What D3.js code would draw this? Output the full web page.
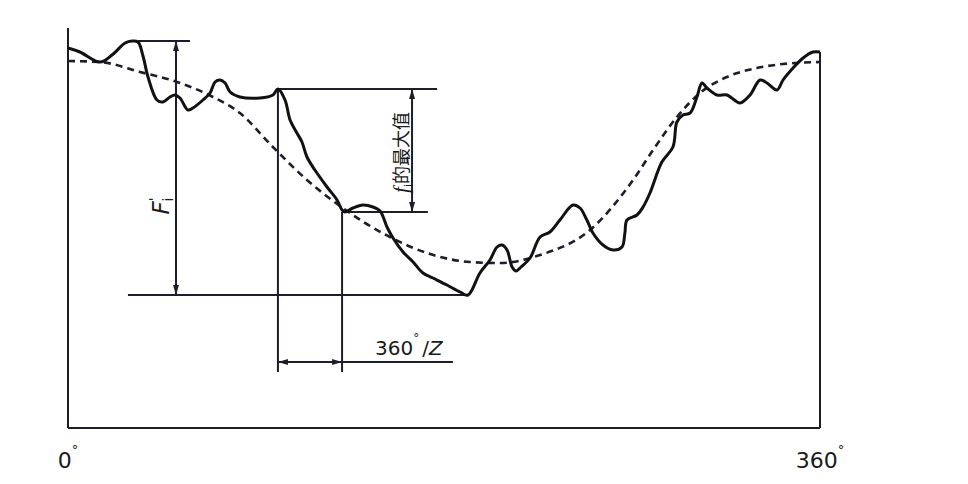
<!DOCTYPE html>
<html>
<head>
<meta charset="utf-8">
<script src="https://cdn.jsdelivr.net/npm/d3@7"></script>
<style>
  body { margin: 0; background: #fff; }
  svg { display: block; }
  text { font-family: "DejaVu Sans", sans-serif; fill: #1a1a1a; }
</style>
</head>
<body>
<svg width="968" height="484"></svg>
<script>
// measured profile: angle in degrees, deviation in arbitrary units
let profileDeg = [0, 5.7, 15.3, 21.1, 27.3, 30.6, 33.5, 35.9, 38.3, 42.6, 45.5, 48.8, 51.2, 53.6, 57.4, 59.8,
  64.6, 68.0, 70.4, 72.8, 75.2, 77.6, 82.3, 91.9, 98.1, 100.5, 103.9, 106.3, 109.6, 112.0, 114.4, 118.2,
  124.0, 128.8, 131.2, 132.6, 136.4, 141.2, 146.0, 149.4, 152.7, 155.6, 160.4, 165.2, 169.9, 174.7, 181.4,
  187.7, 191.5, 197.2, 202.0, 205.4, 207.8, 210.2, 212.6, 214.5, 216.9, 221.2, 226.0, 230.7, 235.5, 241.7,
  245.1, 248.4, 251.3, 256.1, 260.9, 265.2, 266.6, 267.6, 272.4, 275.3, 278.6, 284.3, 289.6, 291.5, 294.4,
  297.8, 301.1, 303.5, 305.9, 310.7, 315.5, 321.7, 326.5, 331.3, 334.6, 339.4, 342.3, 347.1, 351.9, 356.6, 360];
let profileVal = [380, 376, 366, 373, 385, 387, 386, 372, 351, 328, 326, 331, 333, 330, 318, 320,
  328, 335, 346, 348, 345, 336, 331, 330, 333, 339, 328, 308, 295, 286, 271, 258,
  241, 228, 218, 216, 220, 223, 221, 217, 201, 190, 176, 166, 155, 150, 143,
  136, 133, 155, 168, 181, 183, 178, 161, 157, 161, 170, 191, 196, 208, 223,
  220, 208, 195, 183, 178, 181, 195, 208, 213, 221, 235, 266, 281, 306, 313,
  315, 331, 345, 340, 333, 333, 325, 333, 348, 345, 338, 348, 360, 370, 376, 376];

// eccentricity (dashed) curve
let eccDeg = [0, 15.3, 34.5, 52.2, 69.4, 82.3, 98.1, 114.4, 130.2, 154.1, 173.3, 192.4, 206.8, 226.0,
  249.9, 270.5, 280.1, 291.5, 302.5, 315.4, 329.8, 342.3, 360];
let eccVal = [367, 366, 356, 346, 331, 315, 281, 248, 222, 191, 174, 166, 165, 173,
  198, 248, 278, 311, 335, 351, 360, 364, 366];

let axisTicks = [0, 360];

// dimension levels
let FiTop = 387, FiBottom = 133, FiAngle = 51.7;
let fiTop = 339, fiBottom = 216, fiAngle = 164.7;
let toothA = 100.5, toothB = 131.2;
let pitchLevel = 66, pitchEnd = 184.3, pitchFoot = 56;

let svg = d3.select("svg");

let x = d3.scaleLinear().domain([0, 360]).range([68, 820]);
let y = d3.scaleLinear().domain([0, 400]).range([428, 28]);

let ink = "#1d1d2c";

let defs = svg.append("defs");
defs.append("marker")
  .attr("id", "arr")
  .attr("viewBox", "0 0 10 6")
  .attr("refX", 10).attr("refY", 3)
  .attr("markerWidth", 10).attr("markerHeight", 6)
  .attr("markerUnits", "userSpaceOnUse")
  .attr("orient", "auto-start-reverse")
  .append("path")
  .attr("d", "M0,0L10,3L0,6Z")
  .attr("fill", ink);

function seg(x1, y1, x2, y2, arrows) {
  let l = svg.append("line")
    .attr("x1", x(x1)).attr("y1", y(y1))
    .attr("x2", x(x2)).attr("y2", y(y2))
    .attr("stroke", ink)
    .attr("stroke-width", 2);
  if (arrows) l.attr("marker-start", "url(#arr)").attr("marker-end", "url(#arr)");
  return l;
}

// frame
seg(0, 0, 360, 0);
seg(0, 0, 0, 400);
seg(360, 0, 360, 376);

// Fi' dimension
seg(33.5, FiTop, 58.4, FiTop);
seg(28.7, FiBottom, 191.5, FiBottom);
seg(FiAngle, FiTop, FiAngle, FiBottom, true);

// fi dimension
seg(toothA, fiTop, 176.7, fiTop);
seg(toothB, fiBottom, 172.3, fiBottom);
seg(fiAngle, fiTop, fiAngle, fiBottom, true);

// pitch dimension
seg(toothA, fiTop, toothA, pitchFoot);
seg(toothB, fiBottom, toothB, pitchFoot);
seg(toothA, pitchLevel, toothB, pitchLevel, true);
seg(toothB, pitchLevel, pitchEnd, pitchLevel);

// curves
let ecc = eccDeg.map((d, i) => [d, eccVal[i]]);
let prof = profileDeg.map((d, i) => [d, profileVal[i]]);

let line = d3.line().x(d => x(d[0])).y(d => y(d[1]));

svg.append("path")
  .attr("d", line.curve(d3.curveMonotoneX)(ecc))
  .attr("fill", "none")
  .attr("stroke", ink)
  .attr("stroke-width", 2.6)
  .attr("stroke-dasharray", "7,5");

svg.append("path")
  .attr("d", line.curve(d3.curveCatmullRom)(prof))
  .attr("fill", "none")
  .attr("stroke", "#111")
  .attr("stroke-width", 3)
  .attr("stroke-linejoin", "round");

// tick labels
svg.selectAll(".tick")
  .data(axisTicks)
  .enter().append("text")
  .attr("class", "tick")
  .attr("x", d => x(d))
  .attr("y", 468)
  .attr("text-anchor", "middle")
  .style("font-size", "22px")
  .each(function(d) {
    let t = d3.select(this);
    t.append("tspan").text(d);
    t.append("tspan").attr("dy", -14).style("font-size", "13px").text("°");
  });

// Fi' label
let fl = svg.append("text")
  .attr("transform", `translate(${x(FiAngle) - 7},${y((FiTop + FiBottom) / 2) + 38}) rotate(-90)`)
  .attr("text-anchor", "middle")
  .style("font-size", "23px");
fl.append("tspan").style("font-style", "italic").text("F");
fl.append("tspan").attr("dy", -10).style("font-size", "14px").text("'");
fl.append("tspan").attr("dy", 14).attr("dx", -4).style("font-size", "14px").text("i");

// fi label
let fi = svg.append("text")
  .attr("transform", `translate(${x(fiAngle) - 4},${y((fiTop + fiBottom) / 2) + 2}) rotate(-90)`)
  .attr("text-anchor", "middle")
  .style("font-size", "18px");
fi.append("tspan").style("font-style", "italic").style("font-family", "Liberation Serif").style("font-size", "21px").text("f");
fi.append("tspan").attr("dy", 4).style("font-size", "11px").text("i");
fi.append("tspan").attr("dy", -4).style("font-family", "Noto Sans CJK SC").text("的最大值");

// pitch label
let pl = svg.append("text")
  .attr("x", x(toothB) + 33)
  .attr("y", y(pitchLevel) - 7)
  .style("font-size", "20px");
pl.append("tspan").text("360");
pl.append("tspan").attr("dy", -13).style("font-size", "12px").text("°");
pl.append("tspan").attr("dy", 13).attr("dx", 3).text("/");
pl.append("tspan").style("font-style", "italic").text("Z");
</script>
</body>
</html>
